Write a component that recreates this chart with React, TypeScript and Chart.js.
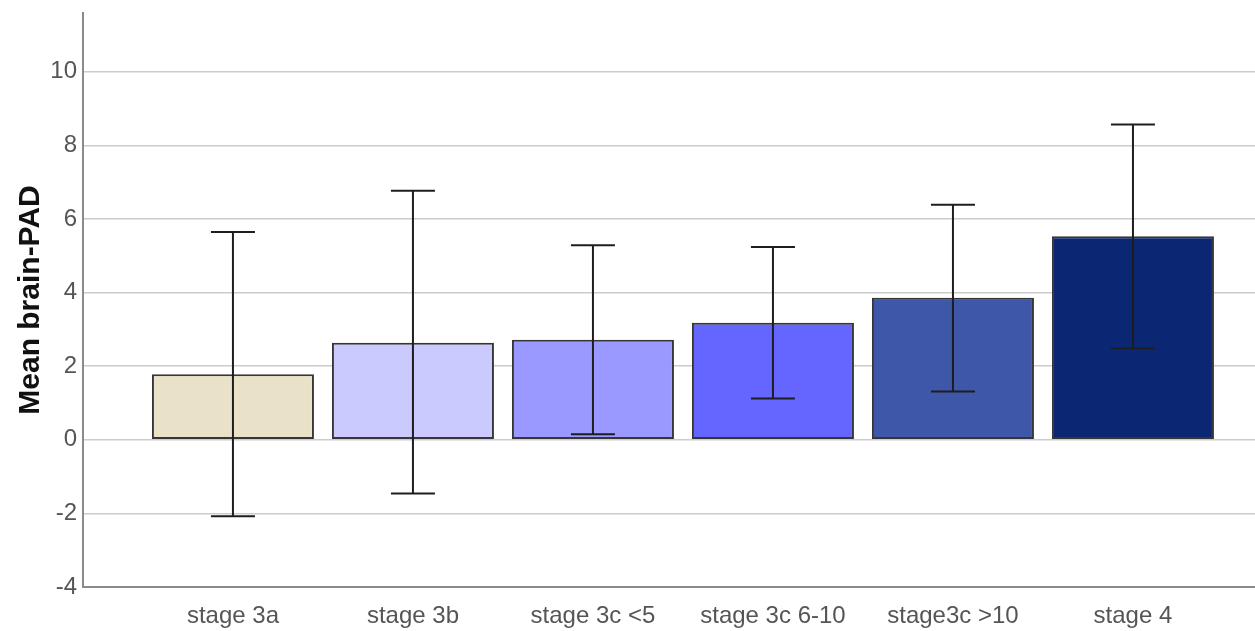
import React, { useEffect, useRef } from "react";
import { Chart, registerables } from "chart.js";

Chart.register(...registerables);

const categories = ["stage 3a", "stage 3b", "stage 3c <5", "stage 3c 6-10", "stage3c >10", "stage 4"];
const means = [1.78, 2.64, 2.72, 3.18, 3.86, 5.53];
const ciLower = [-2.08, -1.46, 0.15, 1.12, 1.31, 2.48];
const ciUpper = [5.65, 6.77, 5.29, 5.24, 6.39, 8.57];
const barColors = ["#EAE2C8", "#CACAFF", "#9999FF", "#6565FF", "#3F57A9", "#0B2672"];
const yTicks = [-4, -2, 0, 2, 4, 6, 8, 10];

const errorBarPlugin = {
  id: "errorBars",
  afterDatasetsDraw(chart: any) {
    const ctx = chart.ctx;
    const xs = chart.scales.x;
    const ys = chart.scales.y;
    ctx.save();
    ctx.strokeStyle = "#1e1e1e";
    ctx.lineWidth = 2;
    categories.forEach((_, i) => {
      const x = xs.getPixelForValue(i);
      const yl = ys.getPixelForValue(ciLower[i]);
      const yu = ys.getPixelForValue(ciUpper[i]);
      const cap = 22;
      ctx.beginPath();
      ctx.moveTo(x, yl);
      ctx.lineTo(x, yu);
      ctx.moveTo(x - cap, yl);
      ctx.lineTo(x + cap, yl);
      ctx.moveTo(x - cap, yu);
      ctx.lineTo(x + cap, yu);
      ctx.stroke();
    });
    ctx.restore();
  },
};

export default function App() {
  const ref = useRef<HTMLCanvasElement | null>(null);
  useEffect(() => {
    if (!ref.current) return;
    const chart = new Chart(ref.current, {
      type: "bar",
      data: {
        datasets: [
          {
            data: means.map((v, i) => ({ x: i, y: v })),
            backgroundColor: barColors,
            borderColor: "#363636",
            borderWidth: 2,
            borderSkipped: false,
            categoryPercentage: 1,
            barPercentage: 0.9,
          },
        ],
      },
      options: {
        animation: false,
        responsive: true,
        maintainAspectRatio: false,
        layout: { padding: { top: 13, right: 0, left: 0, bottom: 0 } },
        plugins: { legend: { display: false }, tooltip: { enabled: false } },
        scales: {
          x: {
            type: "linear",
            offset: false,
            min: -0.833,
            max: 5.678,
            grid: { display: false, drawTicks: false, offset: false },
            border: { display: true, color: "#8a8a8a", width: 2 },
            afterBuildTicks: (scale: any) => {
              scale.ticks = categories.map((_, i) => ({ value: i }));
            },
            afterFit: (scale: any) => {
              scale.height = 44;
              scale.paddingLeft = 0;
              scale.paddingRight = 0;
            },
            ticks: {
              autoSkip: false,
              maxRotation: 0,
              minRotation: 0,
              padding: 15,
              color: "#555555",
              font: { family: "'Liberation Sans', Arial, sans-serif", size: 24 },
              callback: (value: any) => categories[Math.round(Number(value))] ?? "",
            },
          },
          y: {
            min: -4,
            max: 11.6,
            afterBuildTicks: (scale: any) => {
              scale.ticks = yTicks.map((v) => ({ value: v }));
            },
            afterFit: (scale: any) => {
              scale.width = 83;
              scale.paddingTop = 0;
              scale.paddingBottom = 0;
            },
            grid: { color: "#cccccc", lineWidth: 1.5, drawTicks: false },
            border: { display: true, color: "#8a8a8a", width: 2 },
            ticks: {
              padding: 6,
              color: "#555555",
              font: { family: "'Liberation Sans', Arial, sans-serif", size: 24 },
            },
            title: {
              display: true,
              text: "Mean brain-PAD",
              color: "#111111",
              padding: { top: 13, bottom: 0 },
              font: { family: "'Liberation Sans', Arial, sans-serif", size: 30, weight: "bold" },
            },
          },
        },
      },
      plugins: [errorBarPlugin],
    });
    return () => chart.destroy();
  }, []);

  return (
    <div style={{ position: "fixed", left: 0, top: 0, width: 1255, height: 631, background: "#ffffff" }}>
      <canvas ref={ref} />
    </div>
  );
}
